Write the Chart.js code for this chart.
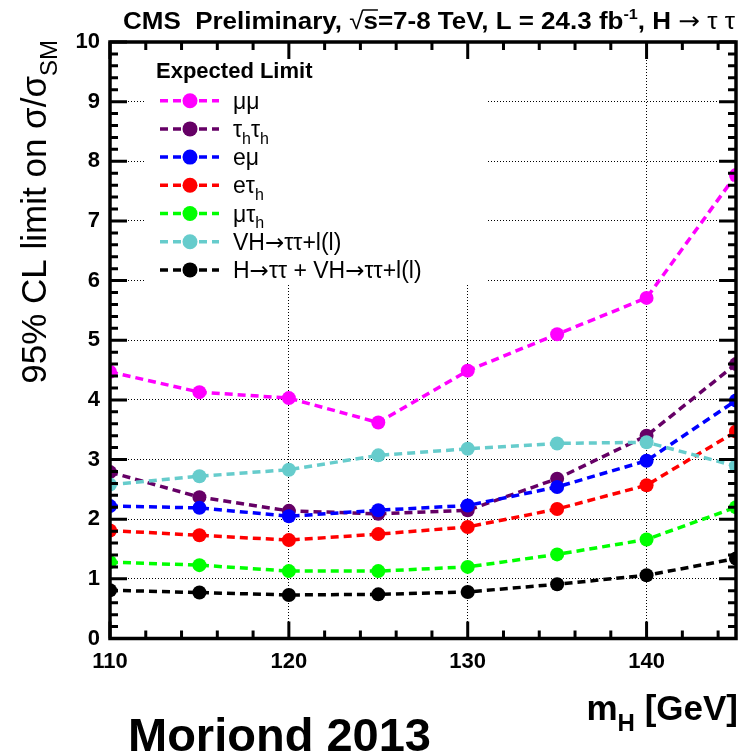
<!DOCTYPE html>
<html>
<head>
<meta charset="utf-8">
<script src="https://cdn.jsdelivr.net/npm/chart.js@4.4.1/dist/chart.umd.min.js"></script>
<style>
  html, body { margin: 0; padding: 0; background: #fff; }
  #wrap { width: 743px; height: 754px; }
</style>
</head>
<body>
<div id="wrap"><canvas id="c" width="743" height="754"></canvas></div>
<script>
// Higgs mass points (GeV)
const masses = [110, 115, 120, 125, 130, 135, 140, 145];

// Expected 95% CL limits on sigma/sigma_SM per channel
const mumu     = [4.47, 4.13, 4.03, 3.62, 4.49, 5.10, 5.71, 7.77];
const tauhtauh = [2.79, 2.37, 2.14, 2.09, 2.15, 2.68, 3.40, 4.60];
const emu      = [2.22, 2.19, 2.05, 2.15, 2.23, 2.54, 2.98, 3.99];
const etauh    = [1.81, 1.73, 1.65, 1.75, 1.87, 2.17, 2.57, 3.47];
const mutauh   = [1.28, 1.23, 1.13, 1.13, 1.20, 1.41, 1.66, 2.20];
const vhll     = [2.58, 2.72, 2.83, 3.07, 3.18, 3.27, 3.29, 2.89];
const combined = [0.81, 0.77, 0.73, 0.74, 0.78, 0.91, 1.06, 1.34];

// Legend labels ( _{..} subscript, ^{..} superscript )
const seriesLabels = ['μμ', 'τ_{h}τ_{h}', 'eμ', 'eτ_{h}', 'μτ_{h}', 'VH→ττ+l(l)', 'H→ττ + VH→ττ+l(l)'];
const seriesColors = ['#ff00ff', '#660066', '#0000ff', '#ff0000', '#00ff00', '#66cccc', '#000000'];
const seriesValues = [mumu, tauhtauh, emu, etauh, mutauh, vhll, combined];

// Axis tick labels
const xTickValues = [110, 120, 130, 140];
const yTickValues = [0, 1, 2, 3, 4, 5, 6, 7, 8, 9, 10];

const FAMILY = '"Liberation Sans", Arial, Helvetica, sans-serif';
const ARROW_FAMILY = '"DejaVu Sans", sans-serif';
const DASH = [8, 5];

// Split a string with _{..} / ^{..} markup into runs; arrows get their own run
function richSegments(text) {
  const segs = [];
  let i = 0, buf = '';
  const flush = () => { if (buf) { segs.push({ t: buf, k: 0 }); buf = ''; } };
  while (i < text.length) {
    if ((text[i] === '_' || text[i] === '^') && text[i + 1] === '{') {
      flush();
      const end = text.indexOf('}', i);
      segs.push({ t: text.slice(i + 2, end), k: text[i] === '_' ? 1 : -1 });
      i = end + 1;
    } else if (text[i] === '→') {
      flush();
      segs.push({ t: '→', k: 0, arrow: true });
      i++;
    } else { buf += text[i]; i++; }
  }
  flush();
  return segs;
}
function segFont(s, size, weight) {
  const sz = s.k === 0 ? size : Math.round(size * 0.68);
  const fam = s.arrow ? ARROW_FAMILY : FAMILY;
  return `${s.arrow ? 'normal' : weight} ${sz}px ${fam}`;
}
function drawRich(ctx, text, x, y, size, weight) {
  let cx = x;
  ctx.textBaseline = 'alphabetic';
  ctx.textAlign = 'left';
  for (const s of richSegments(text)) {
    const dy = s.k === 1 ? size * 0.3 : (s.k === -1 ? -size * 0.42 : 0);
    ctx.font = segFont(s, size, weight);
    ctx.fillText(s.t, cx, y + dy);
    cx += ctx.measureText(s.t).width;
  }
  return cx - x;
}
function measureRich(ctx, text, size, weight) {
  let w = 0;
  for (const s of richSegments(text)) {
    ctx.font = segFont(s, size, weight);
    w += ctx.measureText(s.t).width;
  }
  return w;
}

// White legend pad sitting under the curves' layer
const legendBox = { x0: 145, y0: 50, x1: 488, y1: 285 };

const framePlugin = {
  id: 'rootFrame',
  beforeDatasetsDraw(chart) {
    const ctx = chart.ctx;
    ctx.save();
    ctx.fillStyle = '#fff';
    ctx.fillRect(legendBox.x0, legendBox.y0, legendBox.x1 - legendBox.x0, legendBox.y1 - legendBox.y0);
    ctx.restore();
  },
  afterDatasetsDraw(chart) {
    const ctx = chart.ctx;
    const a = chart.chartArea;
    const xs = chart.scales.x, ys = chart.scales.y;
    ctx.save();
    ctx.strokeStyle = '#000';
    ctx.lineCap = 'butt';
    // ticks pointing inwards
    ctx.lineWidth = 3;
    ctx.beginPath();
    for (let v = 110; v <= 145 + 1e-6; v += 2) {
      const px = xs.getPixelForValue(v);
      const len = (v % 10 === 0) ? 17 : 8;
      ctx.moveTo(px, a.bottom); ctx.lineTo(px, a.bottom - len);
      ctx.moveTo(px, a.top); ctx.lineTo(px, a.top + len);
    }
    for (let k = 0; k <= 50; k++) {
      const v = k * 0.2;
      const py = ys.getPixelForValue(v);
      const len = (k % 5 === 0) ? 17 : 8;
      ctx.moveTo(a.left, py); ctx.lineTo(a.left + len, py);
      ctx.moveTo(a.right, py); ctx.lineTo(a.right - len, py);
    }
    ctx.stroke();
    // frame
    ctx.lineWidth = 3.5;
    ctx.strokeRect(a.left, a.top, a.right - a.left, a.bottom - a.top);

    // legend
    ctx.fillStyle = '#000';
    ctx.font = `bold 22px ${FAMILY}`;
    ctx.textBaseline = 'alphabetic';
    ctx.textAlign = 'left';
    ctx.fillText('Expected Limit', 156, 78);
    chart.data.datasets.forEach((ds, i) => {
      const ry = 100.7 + i * 28.2;
      ctx.save();
      ctx.strokeStyle = ds.borderColor;
      ctx.lineWidth = 3.5;
      ctx.setLineDash(DASH);
      ctx.beginPath();
      ctx.moveTo(160, ry); ctx.lineTo(219, ry);
      ctx.stroke();
      ctx.setLineDash([]);
      ctx.fillStyle = ds.pointBackgroundColor;
      ctx.beginPath();
      ctx.arc(190, ry, 7.5, 0, Math.PI * 2);
      ctx.fill();
      ctx.restore();
      ctx.fillStyle = '#000';
      drawRich(ctx, ds.label, 233, ry + 8, 23, 'normal');
    });
    ctx.restore();
  },
  afterDraw(chart) {
    const ctx = chart.ctx;
    ctx.save();
    ctx.fillStyle = '#000';
    ctx.strokeStyle = '#000';

    // header line
    const parts = [
      { t: 'CMS  Preliminary, ', w: 'bold' },
      { t: '√', w: 'normal' },
      { t: 's', w: 'bold', over: true },
      { t: '=7-8 TeV, L = 24.3 fb', w: 'bold' },
      { t: '-1', w: 'bold', sup: true },
      { t: ', H ', w: 'bold' },
      { t: '→', w: 'normal', arrow: true },
      { t: ' τ τ', w: 'normal' }
    ];
    const tsz = 24;
    const pfont = p => `${p.w} ${p.sup ? 15 : tsz}px ${p.arrow ? ARROW_FAMILY : FAMILY}`;
    let tw = 0;
    for (const p of parts) {
      ctx.font = pfont(p);
      p.width = ctx.measureText(p.t).width;
      tw += p.width;
    }
    const tx0 = 123, tx1 = 735, tbase = 29;
    ctx.save();
    ctx.translate(tx0, tbase);
    ctx.scale((tx1 - tx0) / tw, 1);
    let cx = 0;
    ctx.textAlign = 'left';
    ctx.textBaseline = 'alphabetic';
    for (const p of parts) {
      ctx.font = pfont(p);
      ctx.fillText(p.t, cx, p.sup ? -10 : 0);
      if (p.over) {
        ctx.lineWidth = 1.5;
        ctx.beginPath();
        ctx.moveTo(cx - 1, -19); ctx.lineTo(cx + p.width, -19);
        ctx.stroke();
      }
      cx += p.width;
    }
    ctx.restore();

    // y axis title (rotated)
    const ytxt = '95% CL limit on σ/σ_{SM}';
    const ysz = 35;
    const yw = measureRich(ctx, ytxt, ysz, 'normal');
    ctx.save();
    ctx.translate(46, 40 + yw);
    ctx.rotate(-Math.PI / 2);
    drawRich(ctx, ytxt, 0, 0, ysz, 'normal');
    ctx.restore();

    // x axis title, right aligned
    const xtxt = 'm_{H} [GeV]';
    const xsz = 35;
    const xw = measureRich(ctx, xtxt, xsz, 'bold');
    drawRich(ctx, xtxt, 738 - xw, 720, xsz, 'bold');

    // conference tag
    ctx.font = `bold 47px ${FAMILY}`;
    ctx.textAlign = 'left';
    ctx.fillText('Moriond 2013', 128, 751);
    ctx.restore();
  }
};

const datasets = seriesValues.map((vals, i) => ({
  label: seriesLabels[i],
  data: masses.map((m, j) => ({ x: m, y: vals[j] })),
  borderColor: seriesColors[i],
  backgroundColor: seriesColors[i],
  pointBackgroundColor: seriesColors[i],
  pointBorderWidth: 0,
  pointRadius: 7,
  borderWidth: 3.5,
  borderDash: DASH,
  tension: 0,
  fill: false,
  order: seriesValues.length - i
}));

new Chart(document.getElementById('c'), {
  type: 'line',
  data: { datasets },
  options: {
    responsive: false,
    animation: false,
    events: [],
    layout: { padding: { left: 0, right: 3, top: 42, bottom: 0 } },
    plugins: { legend: { display: false }, tooltip: { enabled: false }, title: { display: false } },
    scales: {
      x: {
        type: 'linear', min: 110, max: 145,
        afterBuildTicks: s => { s.ticks = xTickValues.map(v => ({ value: v })); },
        afterFit: s => { s.height = 115.5; },
        grid: { color: '#000', lineWidth: 1, drawTicks: false },
        border: { display: false, dash: [1, 2] },
        ticks: { color: '#000', padding: 10, maxRotation: 0, autoSkip: false,
                 font: { family: FAMILY, size: 22, weight: 'bold' } }
      },
      y: {
        type: 'linear', min: 0, max: 10,
        afterBuildTicks: s => { s.ticks = yTickValues.map(v => ({ value: v })); },
        afterFit: s => { s.width = 110; },
        grid: { color: '#000', lineWidth: 1, drawTicks: false },
        border: { display: false, dash: [1, 2] },
        ticks: { color: '#000', padding: 10, autoSkip: false,
                 font: { family: FAMILY, size: 22, weight: 'bold' } }
      }
    }
  },
  plugins: [framePlugin]
});
</script>
</body>
</html>
